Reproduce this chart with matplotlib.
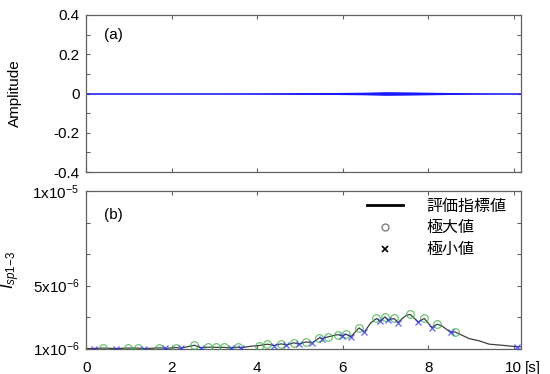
import numpy as np
import matplotlib
matplotlib.use("Agg")
import matplotlib.pyplot as plt
from matplotlib.lines import Line2D

plt.rcParams['font.family'] = ['Liberation Sans', 'Noto Sans CJK JP', 'DejaVu Sans']
plt.rcParams['mathtext.fontset'] = 'custom'
plt.rcParams['mathtext.rm'] = 'Liberation Sans'
plt.rcParams['mathtext.it'] = 'Liberation Sans:italic'

# (a) 波形の包絡
env_t = [0, 1, 2, 3, 4.0, 4.5, 5.0, 5.5, 6.0, 6.5, 7.0, 7.5, 8.0, 8.5, 9.0, 9.5, 10.17]
env_a = [0.001, 0.001, 0.001, 0.0012, 0.002, 0.003, 0.004, 0.0045, 0.0055, 0.0065,
         0.009, 0.008, 0.0065, 0.005, 0.003, 0.0015, 0.001]

# (b) 評価指標値 (x1e-6)
max_t = [0.39, 0.98, 1.20, 1.71, 2.10, 2.53, 2.84, 3.03, 3.23, 3.54, 4.03, 4.24, 4.56,
         4.86, 5.14, 5.45, 5.66, 5.88, 6.08, 6.38, 6.79, 6.99, 7.20, 7.58, 7.91, 8.21, 8.63]
max_v = [1.03, 1.03, 1.03, 1.04, 1.06, 1.19, 1.08, 1.07, 1.07, 1.08, 1.17, 1.25, 1.27,
         1.33, 1.38, 1.61, 1.67, 1.80, 1.82, 2.18, 2.72, 2.81, 2.72, 2.95, 2.72, 2.39, 1.95]
min_t = [0.18, 0.69, 1.36, 1.85, 2.21, 2.68, 3.38, 3.61, 4.39, 4.68, 4.97, 5.29, 5.52,
         5.99, 6.19, 6.51, 6.87, 7.07, 7.30, 7.77, 8.09, 8.53, 10.09]
min_v = [1.00, 1.00, 1.00, 1.01, 1.02, 1.04, 1.03, 1.04, 1.17, 1.20, 1.25, 1.33, 1.57,
         1.72, 1.67, 1.95, 2.56, 2.62, 2.49, 2.52, 2.20, 1.92, 1.10]
# 極値以外の線上の点
extra_t = [0.0, 3.81, 6.65, 7.41, 7.49, 8.32, 8.96, 9.20, 9.43, 9.73, 10.17]
extra_v = [1.00, 1.12, 2.45, 2.75, 2.90, 2.30, 1.57, 1.44, 1.25, 1.19, 1.10]

line_pts = sorted(zip(max_t + min_t + extra_t, max_v + min_v + extra_v))
line_t = [p[0] for p in line_pts]
line_v = [p[1] * 1e-6 for p in line_pts]

fig = plt.figure(figsize=(5.5, 3.74), dpi=100)
ax1 = fig.add_axes([0.157, 0.540, 0.790, 0.420])
ax2 = fig.add_axes([0.157, 0.068, 0.790, 0.421])

spine_c = '#606060'
for ax in (ax1, ax2):
    for s in ax.spines.values():
        s.set_color(spine_c)
        s.set_linewidth(0.9)
    ax.tick_params(direction='in', top=True, right=True, color=spine_c,
                   labelsize=11, length=3, width=0.8)
    ax.tick_params(which='minor', direction='in', top=True, right=True,
                   color=spine_c, length=3, width=0.8)
    ax.tick_params(axis='y', pad=5)
    ax.tick_params(axis='x', pad=9)
    ax.set_xlim(0, 10.17)
    ax.set_xticks([0, 2, 4, 6, 8, 10])

# (a)
ax1.fill_between(env_t, [-a for a in env_a], env_a, color='#0000ff', lw=0)
ax1.plot([0, 10.17], [0, 0], color='#2020ff', lw=1.1)
ax1.set_ylim(-0.4, 0.4)
ax1.set_yticks([-0.4, -0.2, 0, 0.2, 0.4])
ax1.set_yticklabels(['-0.4', '-0.2', '0', '0.2', '0.4'])
ax1.set_yticks([-0.3, -0.1, 0.1, 0.3], minor=True)
ax1.set_xticklabels([])
ax1.set_ylabel('Amplitude', fontsize=11)
ax1.yaxis.set_label_coords(-0.148, 0.5)
ax1.text(0.041, 0.873, '(a)', transform=ax1.transAxes, fontsize=11, va='center')

# (b)
ax2.plot(line_t, line_v, color='#404040', lw=0.9, zorder=2)
ax2.plot(max_t, [v * 1e-6 for v in max_v], 'o', mfc='none', mec='#3cb043',
         mew=0.9, ms=5.5, alpha=0.75, zorder=3)
ax2.plot(min_t, [v * 1e-6 for v in min_v], 'x', color='#3030ff', mew=0.9, ms=5,
         alpha=0.75, zorder=3)
ax2.set_ylim(1e-6, 1e-5)
ax2.set_yticks(np.linspace(1e-6, 1e-5, 6))
ax2.set_yticklabels([r'1x10$^{-6}$', '', r'5x10$^{-6}$', '', '', r'1x10$^{-5}$'])
ax2.set_xticklabels(['0', '2', '4', '6', '8', '10'])
ax2.annotate('[s]', xy=(1.0, 0.0), xycoords='axes fraction', xytext=(3, -9),
             textcoords='offset points', fontsize=11, va='top', ha='left')
ax2.set_ylabel(r'$I_{sp1\mathrm{-}3}$', fontsize=12)
ax2.yaxis.set_label_coords(-0.148, 0.5)
ax2.text(0.041, 0.847, '(b)', transform=ax2.transAxes, fontsize=11, va='center')

handles = [Line2D([], [], color='black', lw=2),
           Line2D([], [], ls='none', marker='o', mfc='none', mec='#808080', ms=5),
           Line2D([], [], ls='none', marker='x', color='black', ms=4.5, mew=1.2)]
ax2.legend(handles, ['評価指標値', '極大値', '極小値'], loc='upper right',
           bbox_to_anchor=(1.0, 1.05), frameon=False,
           handlelength=2.2, labelspacing=0.3, handletextpad=1.5,
           prop={'family': ['Noto Sans CJK JP'], 'size': 11.5})

fig.savefig('out.png', dpi=100)
